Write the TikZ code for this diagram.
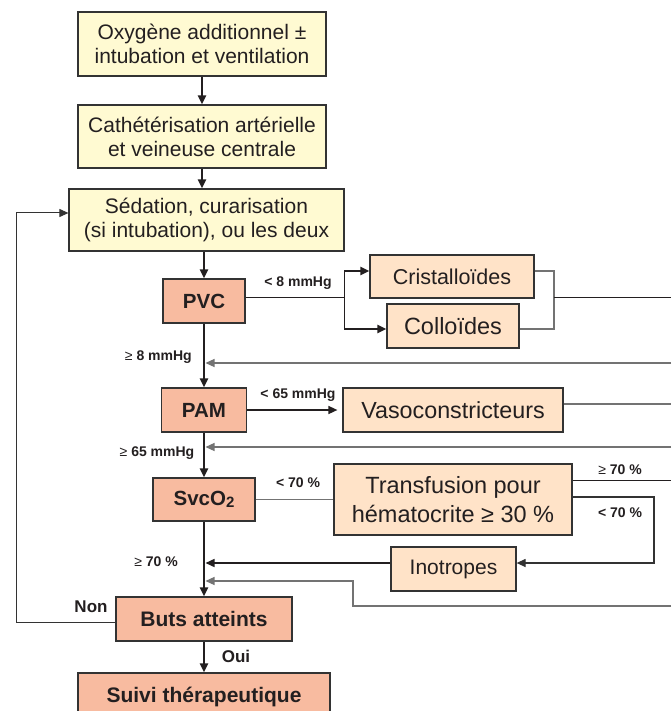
\documentclass[tikz,border=0pt]{standalone}
\usepackage{fontspec}
\setmainfont{Liberation Sans}
\usetikzlibrary{arrows.meta}
\definecolor{yel}{HTML}{FFFAD2}
\definecolor{sal}{HTML}{F8BBA0}
\definecolor{lor}{HTML}{FFE3C8}
\definecolor{bord}{HTML}{333333}
\definecolor{ink}{HTML}{231F20}
\tikzset{
 box/.style={draw=bord, line width=1.2pt, inner sep=0pt, align=center, text=ink},
 ybox/.style={box, fill=yel, font=\fontsize{21}{24}\selectfont},
 sbox/.style={box, fill=sal, font=\fontsize{20.5}{24}\bfseries\selectfont},
 obox/.style={box, fill=lor},
 arrtip/.style={-{Triangle[length=9pt,width=8pt]}},
 mainarr/.style={line width=2pt, draw=ink, arrtip},
 thinl/.style={line width=1pt, draw=ink},
 grayl/.style={line width=1.2pt, draw=black!55},
 lab/.style={font=\fontsize{14}{16}\bfseries\selectfont, text=ink, inner sep=0pt},
 biglab/.style={font=\fontsize{17}{19}\bfseries\selectfont, text=ink, inner sep=0pt}
}
\newcommand{\gee}{{\fontseries{m}\selectfont ≥}}
\begin{document}
\begin{tikzpicture}[x=1pt, y=-1pt]
\useasboundingbox (0,0) rectangle (671,711);
\clip (0,0) rectangle (671,711);
\fill[white] (0,0) rectangle (671,711);

% nodes
\node[ybox, minimum width=248pt, minimum height=64pt] (ox) at (202,44) {Oxygène additionnel ±\\intubation et ventilation};
\node[ybox, minimum width=248pt, minimum height=63pt] (cath) at (202,136.5) {Cathétérisation artérielle\\et veineuse centrale};
\node[ybox, minimum width=275pt, minimum height=62pt] (sed) at (206.5,220) {Sédation, curarisation\\(si intubation), ou les deux};
\node[sbox, minimum width=82pt, minimum height=44pt] (pvc) at (204,301) {PVC};
\node[obox, minimum width=164pt, minimum height=43pt, font=\fontsize{21.5}{24}\selectfont] (crist) at (452,276.5) {Cristalloïdes};
\node[obox, minimum width=132pt, minimum height=44pt, font=\fontsize{23.5}{26}\selectfont] (coll) at (453,326) {Colloïdes};
\node[sbox, minimum width=85pt, minimum height=44pt] (pam) at (204,410) {PAM};
\node[obox, minimum width=220pt, minimum height=44pt, font=\fontsize{23.3}{26}\selectfont] (vaso) at (453,410) {Vasoconstricteurs};
\node[sbox, minimum width=102pt, minimum height=43pt] (svc) at (204,499.5) {SvcO\raisebox{-0.22ex}{\fontsize{15}{15}\bfseries\selectfont 2}};
\node[obox, minimum width=238pt, minimum height=71pt, font=\fontsize{23.5}{29}\selectfont] (trans) at (453,499.5) {Transfusion pour\\hématocrite ≥ 30 \%};
\node[obox, minimum width=125pt, minimum height=44pt, font=\fontsize{21}{24}\selectfont] (ino) at (453.5,569) {Inotropes};
\node[sbox, minimum width=176pt, minimum height=44pt, font=\fontsize{21}{24}\bfseries\selectfont] (buts) at (204,619) {Buts atteints};
\node[sbox, minimum width=252pt, minimum height=48pt, font=\fontsize{21}{24}\bfseries\selectfont] (suivi) at (204,697) {Suivi thérapeutique};

% main vertical arrows
\draw[mainarr] (ox.south) -- (cath.north);
\draw[mainarr] (cath.south) -- (cath.south |- sed.north);
\draw[mainarr] (pvc.north |- sed.south) -- (pvc.north);
\draw[mainarr] (pvc.south) -- (pam.north);
\draw[mainarr] (pam.south) -- (svc.north);
\draw[mainarr] (svc.south) -- (buts.north);
\draw[mainarr] (buts.south) -- (suivi.north);

% PVC branch
\coordinate (sp) at (344,297);
\coordinate (sa) at (344,271);
\coordinate (sb) at (344,329);
\draw[thinl] (pvc.east |- sp) -- (sp);
\draw[thinl] (sa) -- (sb);
\draw[line width=2pt, draw=ink, arrtip] (sa) -- (sa -| crist.west);
\draw[line width=2pt, draw=ink, arrtip] (sb) -- (sb -| coll.west);
\coordinate (ra) at (554,271);
\coordinate (rb) at (554,329);
\coordinate (rm) at (554,297);
\draw[grayl] (sa -| crist.east) -- (ra) -- (rb) -- (sb -| coll.east);
\coordinate (e1) at (671,297);
\draw[thinl] (rm) -- (e1);
\coordinate (e2) at (671,363);
\draw[grayl, arrtip, shorten >=1.5pt] (e2) -- (e2 -| pvc.south);

% PAM branch
\draw[line width=1.5pt, draw=ink, arrtip, shorten >=5pt] (pam.east) -- (vaso.west);
\coordinate (e3) at (671,404);
\draw[grayl] (vaso.east |- e3) -- (e3);
\coordinate (e4) at (671,447);
\draw[grayl, arrtip, shorten >=1.5pt] (e4) -- (e4 -| pam.south);

% SvcO2 branch
\draw[grayl] (svc.east) -- (trans.west);
\coordinate (e5) at (671,480);
\draw[thinl] (trans.east |- e5) -- (e5);
\coordinate (ia) at (654,497);
\draw[line width=1.2pt, draw=black!80, arrtip] (trans.east |- ia) -- (ia) |- ([yshift=6pt]ino.east);
\draw[line width=1.5pt, draw=ink, arrtip, shorten >=1.5pt] ([yshift=6pt]ino.west) -- ([yshift=6pt]ino.west -| svc.south);
\coordinate (e6) at (671,606);
\coordinate (la) at (353,606);
\coordinate (lb) at (353,581);
\draw[grayl, arrtip, shorten >=1.5pt] (e6) -- (la) -- (lb) -- (lb -| svc.south);

% feedback loop
\coordinate (fa) at (16,622);
\coordinate (fb) at (16,213);
\draw[thinl, draw=black!80, arrtip] (buts.west |- fa) -- (fa) -- (fb) -- (fb -| sed.west);

% labels
\node[lab] (l1) at (298,283) {< 8 mmHg};
\node[lab, anchor=east] (l2) at (192,357) {\gee{} 8 mmHg};
\node[lab] (l3) at (298,395) {< 65 mmHg};
\node[lab] (l4) at (157,453) {\gee{} 65 mmHg};
\node[lab] (l5) at (298,483) {< 70 \%};
\node[lab] (l6) at (156,562) {\gee{} 70 \%};
\node[lab] (l7) at (620,470) {\gee{} 70 \%};
\node[lab] (l8) at (620,513) {< 70 \%};
\node[biglab] (non) at (91,607) {Non};
\node[biglab] (oui) at (236,656) {Oui};
\end{tikzpicture}
\end{document}
